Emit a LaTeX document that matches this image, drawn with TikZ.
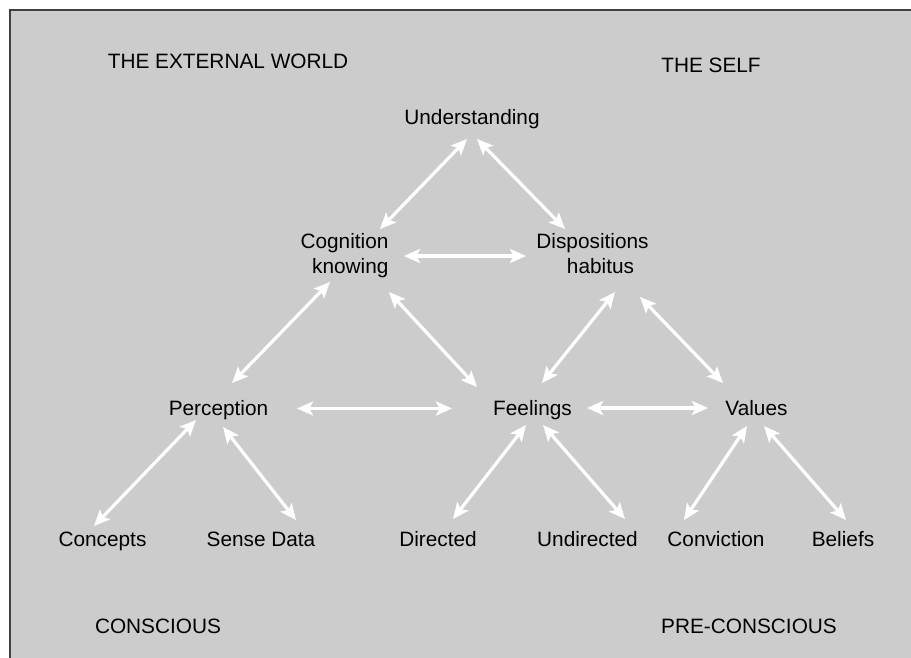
\documentclass[tikz,border=0pt]{standalone}
\usepackage{fontspec}
\setmainfont{Liberation Sans}
\usetikzlibrary{arrows.meta,calc}
\definecolor{panel}{HTML}{CCCCCC}
\definecolor{frameline}{HTML}{404040}
\begin{document}
\begin{tikzpicture}[x=1pt,y=-1pt,
  txt/.style={inner sep=0pt, font=\fontsize{20.8}{25}\selectfont, text=black},
  twoway/.style={draw=white, line width=3.2pt,
    {Stealth[length=16pt,width=14pt,inset=3.5pt]}-{Stealth[length=16pt,width=14pt,inset=3.5pt]}}]

\useasboundingbox (0,0) rectangle (911,657);

% grey panel, framed on its left and top edges
\fill[panel] (10,10) rectangle (940,690);
\draw[frameline, line width=1.5pt] (10,690) -- (10,10) -- (940,10);

% corner captions
\node[txt, anchor=base] (ext)   at (228,68)  {THE EXTERNAL WORLD};
\node[txt, anchor=base] (self)  at (711,72)  {THE SELF};
\node[txt, anchor=base] (consc) at (158,633) {CONSCIOUS};
\node[txt, anchor=base] (pre)   at (749,633) {PRE-CONSCIOUS};

% concepts
\node[txt, anchor=base] (und) at (472,124) {Understanding};
\node[txt, align=right] (cog) at (344.5,256) {Cognition\\knowing};
\node[txt, align=center] (disp) at (592.5,253.7) {Dispositions\\\hspace*{16pt}habitus};
\node[txt, anchor=base] (perc) at (218.5,415) {Perception};
\node[txt, anchor=base] (feel) at (532.5,415) {Feelings};
\node[txt, anchor=base] (val)  at (756.5,415) {Values};
\node[txt, anchor=base] (conc)  at (102.5,546) {Concepts};
\node[txt, anchor=base] (sense) at (261,546)   {Sense Data};
\node[txt, anchor=base] (dir)   at (438,546)   {Directed};
\node[txt, anchor=base] (undir) at (587.5,546) {Undirected};
\node[txt, anchor=base] (conv)  at (716,546)   {Conviction};
\node[txt, anchor=base] (bel)   at (843,546)   {Beliefs};

% two-way links
\draw[twoway] ($(und.base)+(-5,15)$)      -- ($(cog.center)+(35.5,-27)$);
\draw[twoway] ($(und.base)+(5,15)$)       -- ($(disp.center)+(-27.5,-24.7)$);
\draw[twoway] ($(cog.center)+(59.5,0)$)   -- ($(disp.center)+(-66.5,2.3)$);
\draw[twoway] ($(cog.center)+(-14.5,26)$) -- ($(perc.base)+(13.5,-32)$);
\draw[twoway] ($(cog.center)+(44.5,36)$)  -- ($(feel.base)+(-55.5,-28)$);
\draw[twoway] ($(disp.center)+(22.5,38.3)$) -- ($(feel.base)+(9.5,-32)$);
\draw[twoway] ($(disp.center)+(47.5,43.3)$) -- ($(val.base)+(-33.5,-32)$);
\draw[twoway] ($(perc.base)+(78.5,-6.5)$) -- ($(feel.base)+(-80.5,-6.5)$);
\draw[twoway] ($(feel.base)+(54.5,-7)$)   -- ($(val.base)+(-48.5,-7)$);
\draw[twoway] ($(perc.base)+(-22.5,5)$)   -- ($(conc.base)+(-8.5,-20)$);
\draw[twoway] ($(perc.base)+(4.5,12)$)    -- ($(sense.base)+(35,-26)$);
\draw[twoway] ($(feel.base)+(-6.5,10)$)   -- ($(dir.base)+(15,-27)$);
\draw[twoway] ($(feel.base)+(10.5,10)$)   -- ($(undir.base)+(37.5,-27)$);
\draw[twoway] ($(val.base)+(-9.5,11)$)    -- ($(conv.base)+(-32,-26)$);
\draw[twoway] ($(val.base)+(7.5,11)$)     -- ($(bel.base)+(3,-26)$);
\end{tikzpicture}
\end{document}
